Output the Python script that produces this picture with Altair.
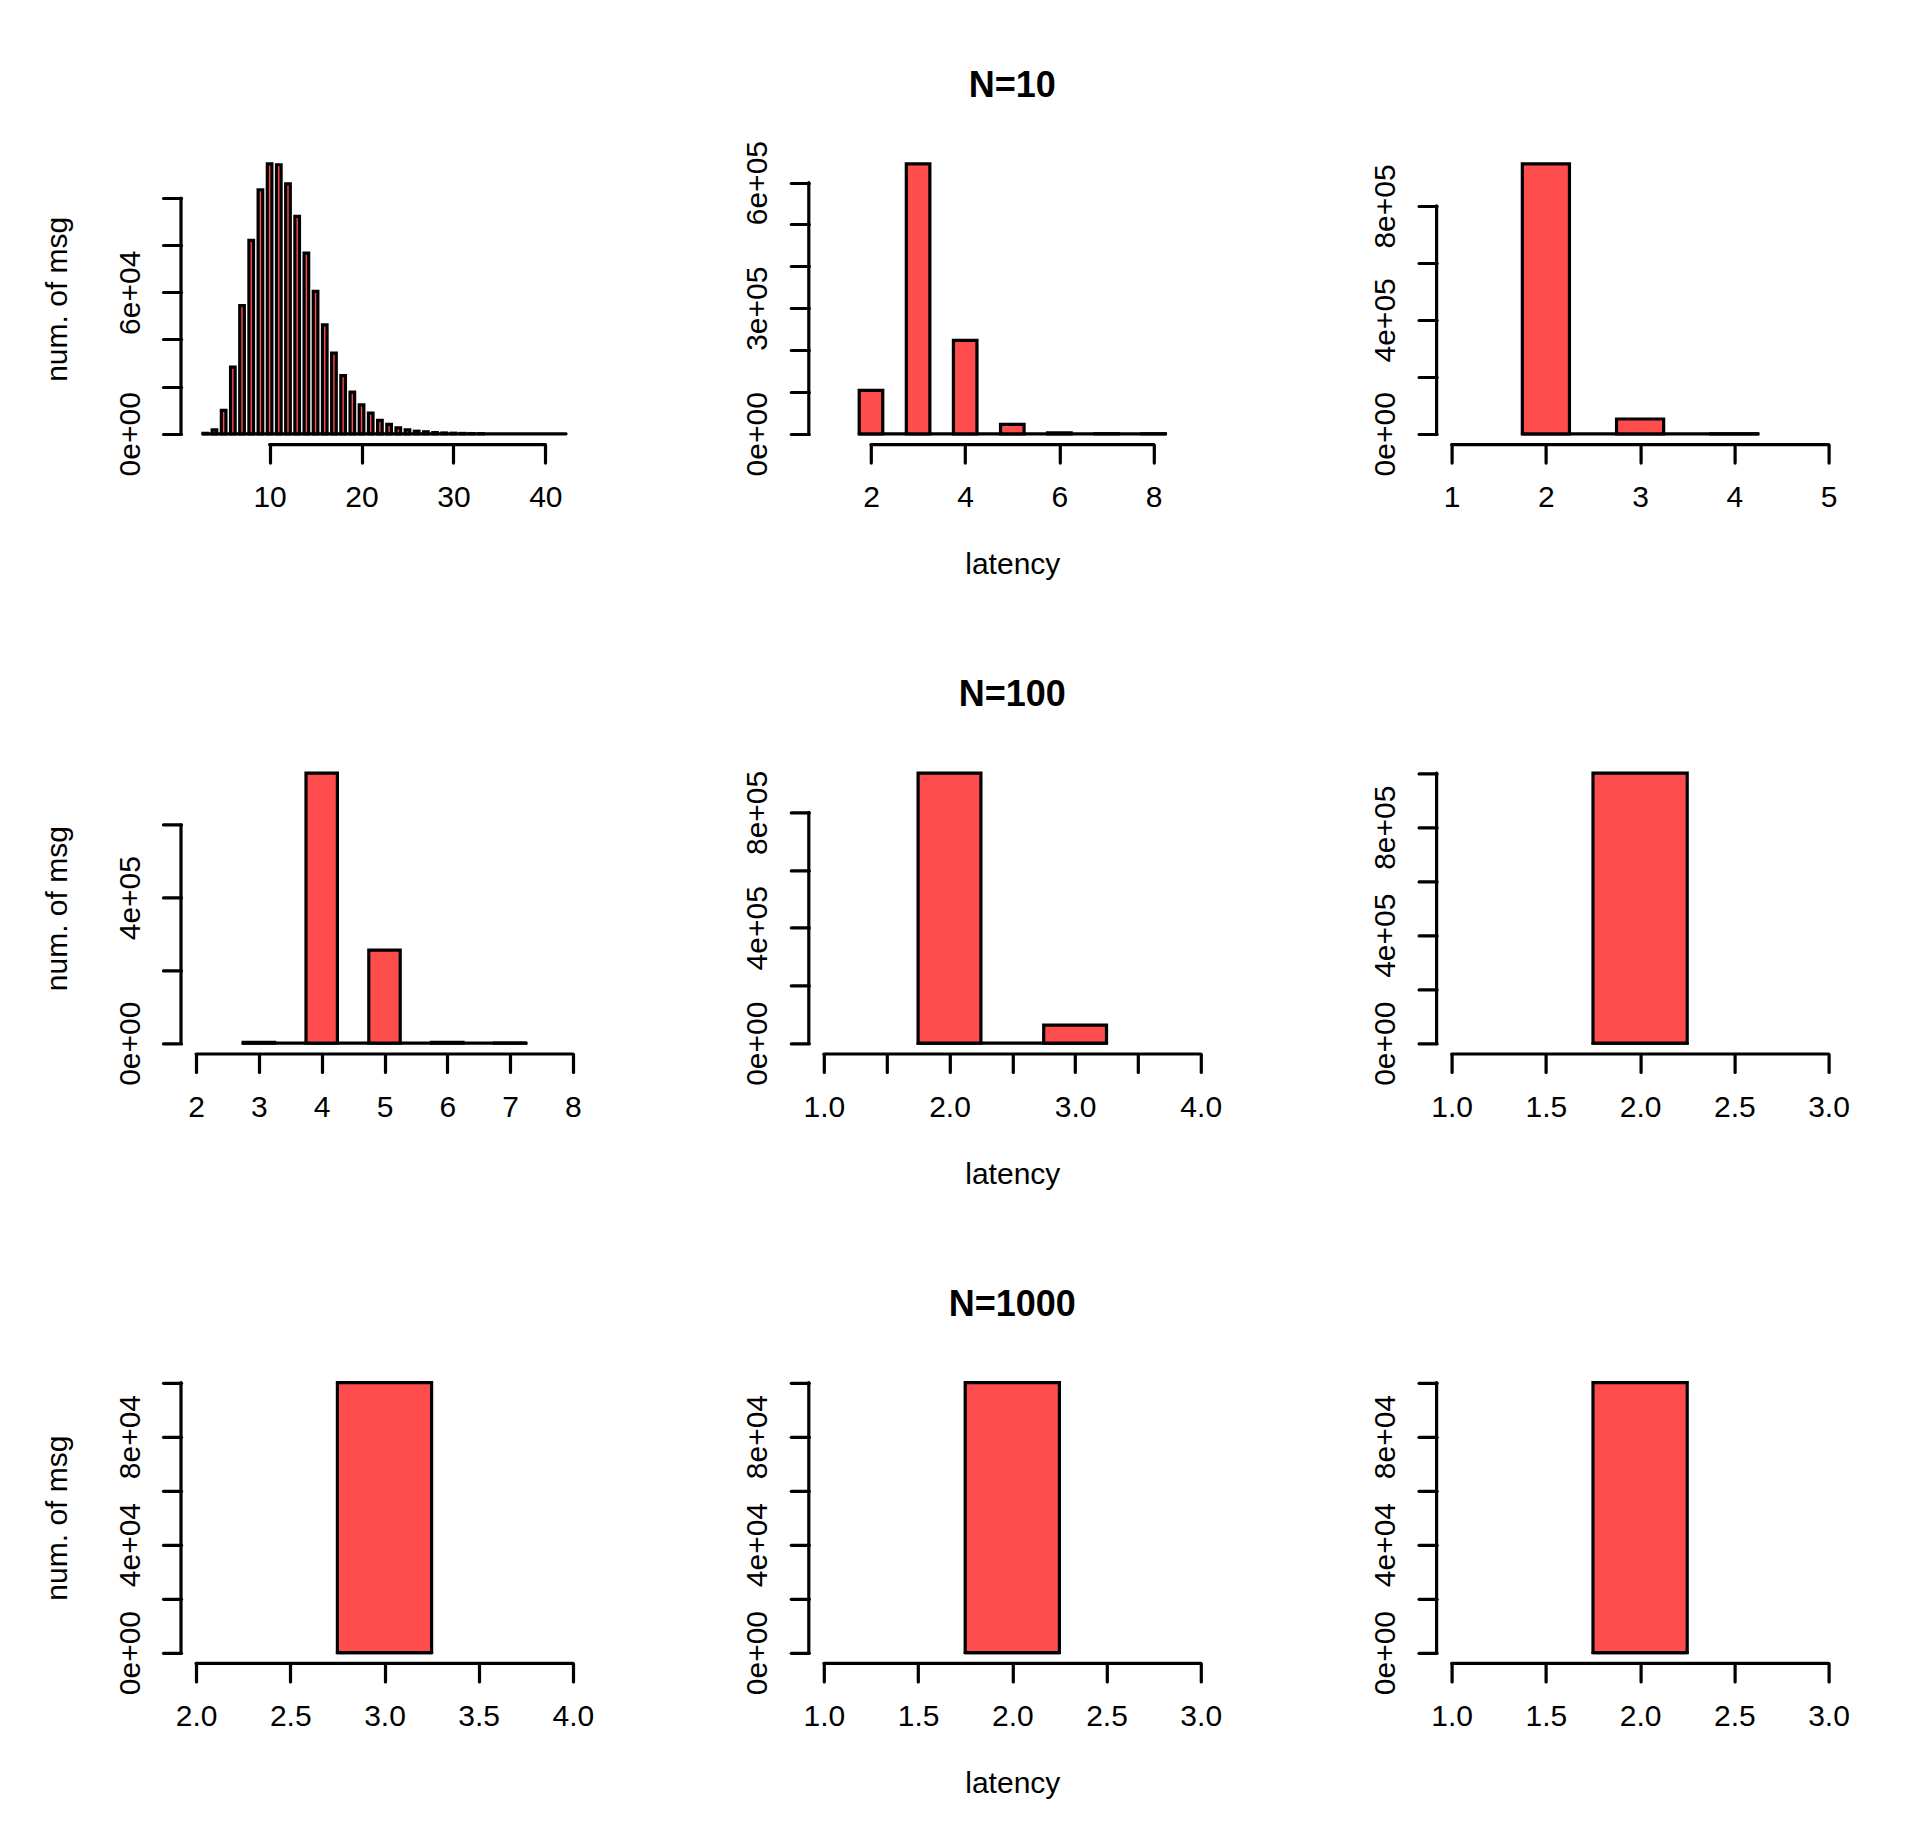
import altair as alt
import pandas as pd

FONT = "Liberation Sans"
RED = "#FF4C4C"
LW = 3.2
W = 407
H = 291.6

row_titles = ["N=10", "N=100", "N=1000"]
x_title = "latency"
y_title = "num. of msg"

# ---------------- data ----------------
lat_1 = list(range(3, 34))
cnt_1 = [200, 1700, 9900, 28300, 54400, 82000, 103500, 114500, 114100, 106000,
         92200, 76600, 60400, 46200, 34200, 24700, 17700, 12300, 8800, 5700,
         4000, 2500, 1700, 1100, 850, 500, 350, 250, 150, 100, 60]
lat_2 = [2, 3, 4, 5, 6, 7, 8]
cnt_2 = [103600, 645000, 223000, 22300, 2000, 100, 10]
lat_3 = [2, 3, 4]
cnt_3 = [948000, 52000, 30]
lat_4 = [3, 4, 5, 6, 7]
cnt_4 = [2000, 742000, 255600, 2000, 10]
lat_5 = [2, 3]
cnt_5 = [936000, 63000]
lat_6 = [2]
cnt_6 = [1000000]
lat_7 = [3]
cnt_7 = [100000]
lat_8 = [2]
cnt_8 = [100000]
lat_9 = [2]
cnt_9 = [100000]

bin_width = 0.5
breaks = [(2.75, 42.25), (1.75, 8.25), (1.75, 4.25),
          (2.75, 7.25), (1.75, 3.25), (1.75, 2.25),
          (2.75, 3.25), (1.75, 2.25), (1.75, 2.25)]
xlims = [(2, 43), (1, 9), (1, 5),
         (2, 8), (1, 4), (1, 3),
         (2, 4), (1, 3), (1, 3)]

x_ticks = [
    [10, 20, 30, 40],
    [2, 4, 6, 8],
    [1, 2, 3, 4, 5],
    [2, 3, 4, 5, 6, 7, 8],
    [1.0, 1.5, 2.0, 2.5, 3.0, 3.5, 4.0],
    [1.0, 1.5, 2.0, 2.5, 3.0],
    [2.0, 2.5, 3.0, 3.5, 4.0],
    [1.0, 1.5, 2.0, 2.5, 3.0],
    [1.0, 1.5, 2.0, 2.5, 3.0],
]
x_labels = [
    ["10", "20", "30", "40"],
    ["2", "4", "6", "8"],
    ["1", "2", "3", "4", "5"],
    ["2", "3", "4", "5", "6", "7", "8"],
    ["1.0", "", "2.0", "", "3.0", "", "4.0"],
    ["1.0", "1.5", "2.0", "2.5", "3.0"],
    ["2.0", "2.5", "3.0", "3.5", "4.0"],
    ["1.0", "1.5", "2.0", "2.5", "3.0"],
    ["1.0", "1.5", "2.0", "2.5", "3.0"],
]
y_ticks = [
    [0, 20000, 40000, 60000, 80000, 100000],
    [0, 100000, 200000, 300000, 400000, 500000, 600000],
    [0, 200000, 400000, 600000, 800000],
    [0, 200000, 400000, 600000],
    [0, 200000, 400000, 600000, 800000],
    [0, 200000, 400000, 600000, 800000, 1000000],
    [0, 20000, 40000, 60000, 80000, 100000],
    [0, 20000, 40000, 60000, 80000, 100000],
    [0, 20000, 40000, 60000, 80000, 100000],
]
y_labels = [
    ["0e+00", "", "", "6e+04", "", ""],
    ["0e+00", "", "", "3e+05", "", "", "6e+05"],
    ["0e+00", "", "4e+05", "", "8e+05"],
    ["0e+00", "", "4e+05", ""],
    ["0e+00", "", "4e+05", "", "8e+05"],
    ["0e+00", "", "4e+05", "", "8e+05", ""],
    ["0e+00", "", "4e+04", "", "8e+04", ""],
    ["0e+00", "", "4e+04", "", "8e+04", ""],
    ["0e+00", "", "4e+04", "", "8e+04", ""],
]

lats = [lat_1, lat_2, lat_3, lat_4, lat_5, lat_6, lat_7, lat_8, lat_9]
cnts = [cnt_1, cnt_2, cnt_3, cnt_4, cnt_5, cnt_6, cnt_7, cnt_8, cnt_9]


def lab_expr(ticks, labels):
    e = "''"
    for v, t in reversed(list(zip(ticks, labels))):
        if t:
            e = f"(abs(datum.value - ({v})) < 1e-6 ? '{t}' : {e})"
    return e


def make_panel(i):
    row, col = divmod(i, 3)
    lat, cnt = lats[i], cnts[i]
    xt, xl, yt, yl = x_ticks[i], x_labels[i], y_ticks[i], y_labels[i]
    ymax = max(cnt)
    ydom = [-0.04 * ymax, 1.04 * ymax]
    x0, x1 = xlims[i]
    xr = x1 - x0
    xdom = [x0 - 0.04 * xr, x1 + 0.04 * xr]
    xs = alt.Scale(domain=xdom, nice=False, zero=False)
    ys = alt.Scale(domain=ydom, nice=False, zero=False)

    xaxis = alt.Axis(
        values=xt, labelExpr=lab_expr(xt, xl), domain=False, grid=False,
        tickSize=18, tickWidth=LW, tickColor="black", tickCap="round",
        labelFont=FONT, labelFontSize=30, labelColor="black",
        labelPadding=35, labelBaseline="middle", labelAlign="center",
        labelOverlap=False, labelFlush=False,
        title=x_title if col == 1 else " ",
        titleFont=FONT, titleFontSize=30, titleFontWeight="normal",
        titleColor="black", titleX=W / 2, titleY=120,
        titleAlign="center", titleBaseline="middle",
    )
    yaxis = alt.Axis(
        values=yt, labelExpr=lab_expr(yt, yl), domain=False, grid=False,
        tickSize=18, tickWidth=LW, tickColor="black", tickCap="round",
        labelFont=FONT, labelFontSize=30, labelColor="black",
        labelPadding=33, labelAngle=270, labelBaseline="middle",
        labelAlign="center", labelOverlap=False, labelFlush=False,
        title=y_title if col == 0 else " ",
        titleFont=FONT, titleFontSize=30, titleFontWeight="normal",
        titleColor="black", titleAngle=270, titleX=-124, titleY=H / 2,
        titleAlign="center", titleBaseline="middle",
    )

    bars_df = pd.DataFrame({
        "lo": [c - bin_width / 2 for c in lat],
        "hi": [c + bin_width / 2 for c in lat],
        "n": cnt,
        "base": [0] * len(lat),
    })
    base_df = pd.DataFrame({"lo": [breaks[i][0]], "hi": [breaks[i][1]],
                            "n": [0], "base": [0]})
    axl_df = pd.DataFrame({
        "lo": [xt[0], xdom[0]], "hi": [xt[-1], xdom[0]],
        "n": [ydom[0], yt[0]], "base": [ydom[0], yt[-1]],
    })
    title_df = pd.DataFrame({"t": [row_titles[row]]})

    X = alt.X("lo:Q", scale=xs, axis=xaxis)
    Y = alt.Y("n:Q", scale=ys, axis=yaxis)

    base_rule = alt.Chart(base_df).mark_rule(
        color="black", strokeWidth=LW, strokeCap="round"
    ).encode(x=X, x2="hi", y=Y)
    bars = alt.Chart(bars_df).mark_rect(
        fill=RED, stroke="black", strokeWidth=LW
    ).encode(x=X, x2="hi", y=Y, y2="base")
    axis_lines = alt.Chart(axl_df).mark_rule(
        color="black", strokeWidth=LW, strokeCap="round"
    ).encode(x=X, x2="hi", y=Y, y2="base")
    layers = [base_rule, bars, axis_lines]
    if i == 0:
        anchor = alt.Chart(pd.DataFrame({"a": [0]})).mark_rule(
            color="white", strokeWidth=1
        ).encode(x=alt.value(-180), x2=alt.value(-179), y=alt.value(-152))
        layers.append(anchor)
    if col == 1:
        ttl = alt.Chart(title_df).mark_text(
            font=FONT, fontSize=36, fontWeight="bold", color="black",
            align="center", baseline="middle"
        ).encode(text="t:N", x=alt.value(W / 2), y=alt.value(-67.2))
        layers.append(ttl)

    return alt.layer(*layers).properties(width=W, height=H)


panels = [make_panel(i) for i in range(9)]

chart = alt.concat(
    *panels, columns=3, spacing={"row": 317.4, "column": 220.8}, bounds="flush"
).properties(padding=0, background="white").configure_view(strokeWidth=0)

chart.save("out.html", embed_options={"renderer": "svg", "actions": False})
